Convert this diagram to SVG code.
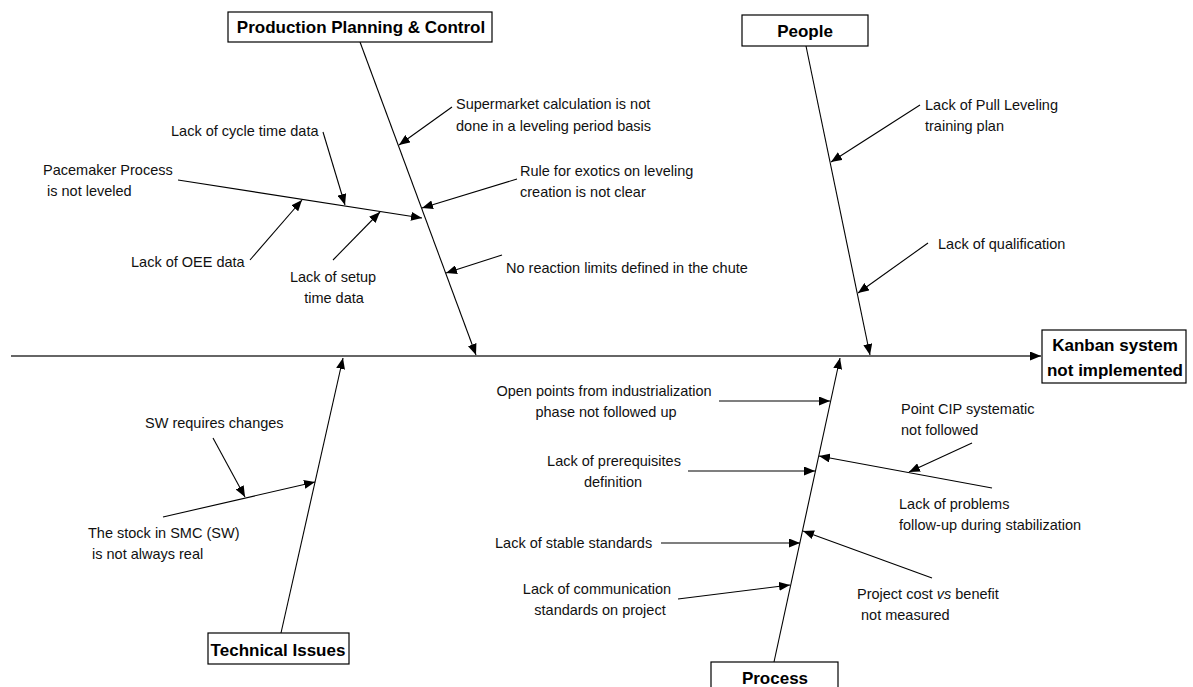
<svg xmlns="http://www.w3.org/2000/svg" width="1193" height="687" viewBox="0 0 1193 687">
  <style>
    .bg { fill: #ffffff; }
    .box { fill: #ffffff; stroke: #000000; stroke-width: 1.2; }
    .shadow { fill: #9a9a9a; }
    .title { font-family: "Liberation Sans", Arial, sans-serif; font-weight: bold; font-size: 17px; fill: #000000; text-anchor: middle; }
    .lbl { font-family: "Liberation Sans", Arial, sans-serif; font-size: 14.5px; fill: #111111; }
    .mid { text-anchor: middle; }
    .bone { stroke: #000000; stroke-width: 1.1; fill: none; marker-end: url(#arrow); }
    .spine { stroke: #333333; stroke-width: 1.6; fill: none; marker-end: url(#arrow); }
  </style>
  <defs>
    <marker id="arrow" markerUnits="userSpaceOnUse" markerWidth="11" markerHeight="9" refX="11" refY="4.5" orient="auto">
      <path d="M0,0 L11,4.5 L0,9 Z" fill="#000000"/>
    </marker>
  </defs>

  <rect class="bg" x="0" y="0" width="1193" height="687"/>

  <!-- spine, category bones and cause arrows -->
  <g id="connectors">
    <line class="spine" x1="11" y1="356" x2="1041" y2="356"/>

    <line class="bone" x1="360" y1="42" x2="476" y2="355"/>
    <line class="bone" x1="806" y1="46" x2="870" y2="355"/>
    <line class="bone" x1="281" y1="633" x2="343" y2="358"/>
    <line class="bone" x1="774" y1="662" x2="840" y2="358"/>

    <!-- Production Planning & Control causes -->
    <line class="bone" x1="452" y1="107" x2="399" y2="145"/>
    <line class="bone" x1="517" y1="179" x2="422" y2="208"/>
    <line class="bone" x1="502" y1="255" x2="446" y2="273"/>
    <line class="bone" x1="178" y1="180" x2="422" y2="218"/>
    <line class="bone" x1="323" y1="132" x2="345" y2="205"/>
    <line class="bone" x1="250" y1="260" x2="302" y2="200"/>
    <line class="bone" x1="333" y1="260" x2="380" y2="212"/>

    <!-- People causes -->
    <line class="bone" x1="920" y1="105" x2="831" y2="162"/>
    <line class="bone" x1="928" y1="243" x2="858" y2="293"/>

    <!-- Technical Issues causes -->
    <line class="bone" x1="163" y1="517" x2="315" y2="482"/>
    <line class="bone" x1="213" y1="438" x2="245" y2="497"/>

    <!-- Process causes -->
    <line class="bone" x1="719" y1="401" x2="830" y2="401"/>
    <line class="bone" x1="688" y1="471" x2="815" y2="471"/>
    <line class="bone" x1="661" y1="543" x2="800" y2="543"/>
    <line class="bone" x1="678" y1="599" x2="790" y2="585"/>
    <line class="bone" x1="992" y1="488" x2="819" y2="456"/>
    <line class="bone" x1="972" y1="443" x2="909" y2="472"/>
    <line class="bone" x1="932" y1="578" x2="803" y2="531"/>
  </g>

  <!-- category and effect boxes -->
  <g id="ppc">
    <rect class="box" x="228" y="12" width="264" height="30"/>
    <text class="title" x="361" y="33">Production Planning &amp; Control</text>
  </g>
  <g id="people">
    <rect class="box" x="742" y="15" width="126" height="31"/>
    <text class="title" x="805" y="37">People</text>
  </g>
  <g id="technical">
    <rect class="box" x="208" y="633" width="141" height="31"/>
    <text class="title" x="278" y="656">Technical Issues</text>
  </g>
  <g id="process">
    <rect class="box" x="711" y="662" width="127" height="40"/>
    <text class="title" x="775" y="684">Process</text>
  </g>
  <g id="effect">
    <rect class="box" x="1042" y="330" width="144" height="53"/>
    <text class="title" x="1115" y="351">Kanban system</text>
    <text class="title" x="1115" y="376">not implemented</text>
  </g>

  <!-- cause labels -->
  <g id="c-supermarket">
    <text class="lbl" x="456" y="109">Supermarket calculation is not</text>
    <text class="lbl" x="456" y="131">done in a leveling period basis</text>
  </g>
  <g id="c-exotics">
    <text class="lbl" x="520" y="176">Rule for exotics on leveling</text>
    <text class="lbl" x="520" y="197">creation is not clear</text>
  </g>
  <g id="c-reaction">
    <text class="lbl" x="506" y="273">No reaction limits defined in the chute</text>
  </g>
  <g id="c-cycle">
    <text class="lbl" x="171" y="136">Lack of cycle time data</text>
  </g>
  <g id="c-pacemaker">
    <text class="lbl" x="43" y="175">Pacemaker Process</text>
    <text class="lbl" x="47" y="196">is not leveled</text>
  </g>
  <g id="c-oee">
    <text class="lbl" x="131" y="267">Lack of OEE data</text>
  </g>
  <g id="c-setup">
    <text class="lbl mid" x="333" y="282">Lack of setup</text>
    <text class="lbl mid" x="334" y="303">time data</text>
  </g>
  <g id="c-pull">
    <text class="lbl" x="925" y="110">Lack of Pull Leveling</text>
    <text class="lbl" x="925" y="131">training plan</text>
  </g>
  <g id="c-qualification">
    <text class="lbl" x="938" y="249">Lack of qualification</text>
  </g>
  <g id="c-sw">
    <text class="lbl" x="145" y="428">SW requires changes</text>
  </g>
  <g id="c-stock">
    <text class="lbl" x="88" y="538">The stock in SMC (SW)</text>
    <text class="lbl" x="92" y="559">is not always real</text>
  </g>
  <g id="c-openpoints">
    <text class="lbl mid" x="604" y="396">Open points from industrialization</text>
    <text class="lbl mid" x="606" y="417">phase not followed up</text>
  </g>
  <g id="c-prereq">
    <text class="lbl mid" x="614" y="466">Lack of prerequisites</text>
    <text class="lbl mid" x="613" y="487">definition</text>
  </g>
  <g id="c-stable">
    <text class="lbl" x="495" y="548">Lack of stable standards</text>
  </g>
  <g id="c-communication">
    <text class="lbl mid" x="597" y="594">Lack of communication</text>
    <text class="lbl mid" x="600" y="615">standards on project</text>
  </g>
  <g id="c-cip">
    <text class="lbl" x="901" y="414">Point CIP systematic</text>
    <text class="lbl" x="901" y="435">not followed</text>
  </g>
  <g id="c-problems">
    <text class="lbl" x="899" y="509">Lack of problems</text>
    <text class="lbl" x="899" y="530">follow-up during stabilization</text>
  </g>
  <g id="c-cost">
    <text class="lbl" x="857" y="599">Project cost <tspan font-style="italic">vs</tspan> benefit</text>
    <text class="lbl" x="861" y="620">not measured</text>
  </g>
</svg>
